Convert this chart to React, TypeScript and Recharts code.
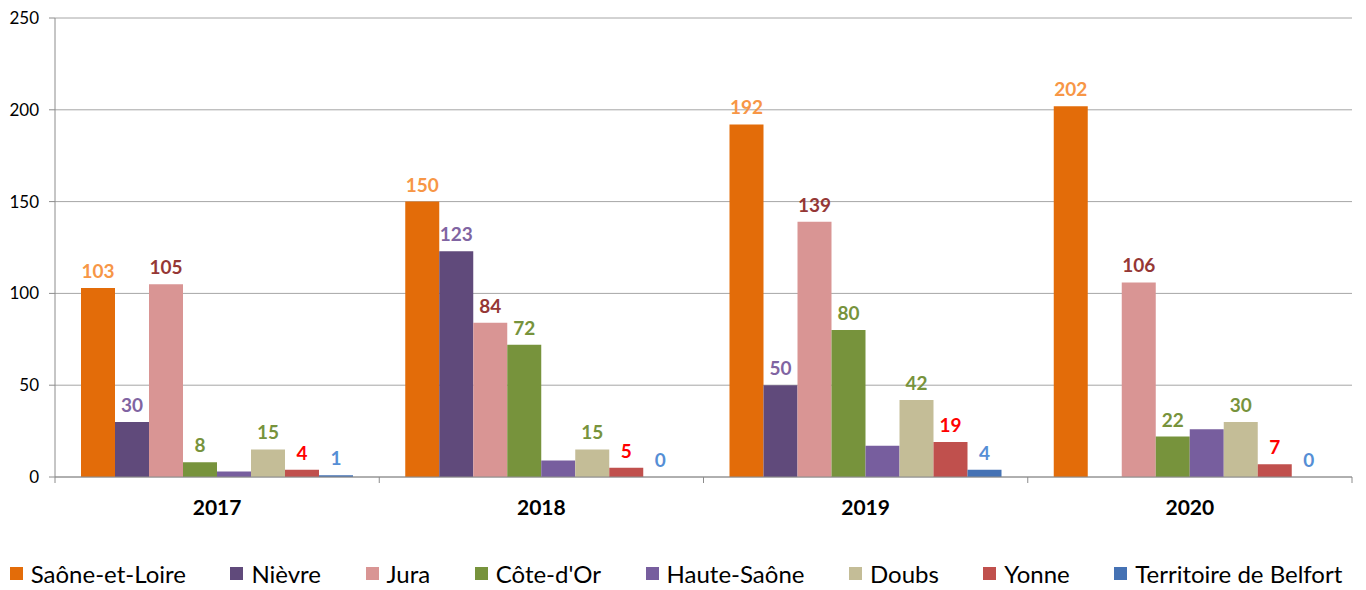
import { Bar, BarChart, CartesianGrid, LabelList, Legend, XAxis, YAxis } from 'recharts';

const years = ['2017', '2018', '2019', '2020'];
const saoneEtLoire = [103, 150, 192, 202];
const nievre = [30, 123, 50, null];
const jura = [105, 84, 139, 106];
const coteDOr = [8, 72, 80, 22];
const hauteSaone = [3, 9, 17, 26];
const doubs = [15, 15, 42, 30];
const yonne = [4, 5, 19, 7];
const belfort = [1, 0, 4, 0];
const yTicks = [0, 50, 100, 150, 200, 250];

const series = [
    { key: 'saone', name: 'Saône-et-Loire', values: saoneEtLoire, fill: '#E36C09', label: '#F79646' },
    { key: 'nievre', name: 'Nièvre', values: nievre, fill: '#604A7B', label: '#8064A2' },
    { key: 'jura', name: 'Jura', values: jura, fill: '#D99594', label: '#953735' },
    { key: 'cote', name: "Côte-d'Or", values: coteDOr, fill: '#77933C', label: '#77933C' },
    { key: 'haute', name: 'Haute-Saône', values: hauteSaone, fill: '#775E9E', label: null },
    { key: 'doubs', name: 'Doubs', values: doubs, fill: '#C4BD97', label: '#77933C' },
    { key: 'yonne', name: 'Yonne', values: yonne, fill: '#C0504D', label: '#FF0000' },
    { key: 'belfort', name: 'Territoire de Belfort', values: belfort, fill: '#4572B4', label: '#558ED5' },
];

const data = years.map((year, i) => {
    const row: Record<string, any> = { year };
    series.forEach((s) => { row[s.key] = s.values[i]; });
    return row;
});

const W = 1366;
const H = 590;
const M = { top: 18, right: 14, left: 0, bottom: 0 };
const Y_W = 55;
const FONT = 'Lato, "Open Sans", sans-serif';
const band = (W - M.left - M.right - Y_W) / years.length;

const YearTick = (props: any) => {
    const { x, y, payload, index } = props;
    const half = band / 2;
    return (
        <g>
            <line x1={x - half} x2={x - half} y1={y} y2={y + 6} stroke="#8C8C8C" />
            {index === years.length - 1 && (
                <line x1={x + half} x2={x + half} y1={y} y2={y + 6} stroke="#8C8C8C" />
            )}
            <text x={x} y={y + 38} textAnchor="middle" fontFamily={FONT} fontWeight="bold" fontSize={21} fill="#000">
                {payload.value}
            </text>
        </g>
    );
};

const renderLegend = (props: any) => {
    const items = [...(props.payload || [])].sort(
        (a: any, b: any) => series.findIndex((s) => s.name === a.value) - series.findIndex((s) => s.name === b.value)
    );
    return (
        <div style={{ boxSizing: 'border-box', height: 45, paddingTop: 12, display: 'flex', justifyContent: 'center', gap: 44.5, fontFamily: FONT, fontSize: 24, lineHeight: '28px', color: '#000' }}>
            {items.map((p: any) => (
                <div key={p.value} style={{ display: 'flex', alignItems: 'center' }}>
                    <span style={{ width: 13, height: 13, background: p.color, marginRight: 8, display: 'inline-block' }} />
                    <span>{p.value}</span>
                </div>
            ))}
        </div>
    );
};

export default function App() {
    return (
        <div style={{ position: 'absolute', left: 0, top: 0, background: '#fff' }}>
            <BarChart width={W} height={H} data={data} margin={M} barCategoryGap={26} barGap={0}>
                <CartesianGrid horizontal={true} vertical={false} stroke="#A6A6A6" />
                <XAxis
                    dataKey="year"
                    height={68}
                    tickSize={0}
                    tickMargin={0}
                    axisLine={{ stroke: '#8C8C8C' }}
                    tickLine={false}
                    tick={<YearTick />}
                    interval={0}
                />
                <YAxis
                    width={Y_W}
                    domain={[0, 250]}
                    ticks={yTicks}
                    interval={0}
                    tickSize={6}
                    tickMargin={10}
                    axisLine={{ stroke: '#8C8C8C' }}
                    tickLine={{ stroke: '#8C8C8C' }}
                    tick={{ fill: '#000', fontSize: 17, fontFamily: FONT }}
                />
                <Legend verticalAlign="bottom" height={45} content={renderLegend} />
                {series.map((s) => (
                    <Bar
                        key={s.key}
                        dataKey={s.key}
                        name={s.name}
                        fill={s.fill}
                        minPointSize={s.key === 'belfort' ? 0.01 : 0}
                        isAnimationActive={false}
                    >
                        {s.label && (
                            <LabelList
                                dataKey={s.key}
                                position="top"
                                offset={10}
                                fill={s.label}
                                fontSize={19}
                                fontWeight="bold"
                                fontFamily={FONT}
                            />
                        )}
                    </Bar>
                ))}
            </BarChart>
        </div>
    );
}
